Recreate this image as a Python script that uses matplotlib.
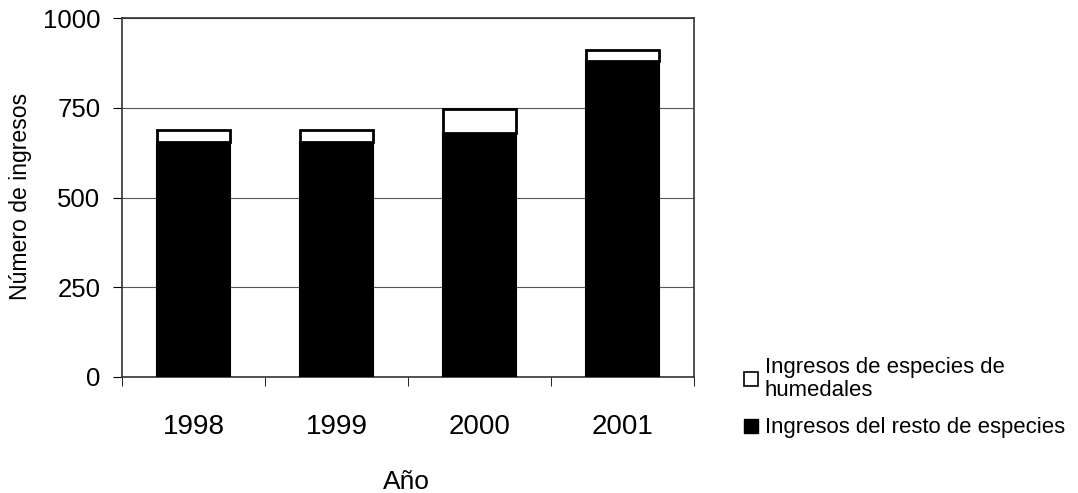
import numpy as np
import matplotlib
matplotlib.use('Agg')
import matplotlib.pyplot as plt
from matplotlib.lines import Line2D

years = ['1998', '1999', '2000', '2001']
resto = [655, 655, 680, 880]
humedales = [32, 32, 68, 30]

plt.rcParams['font.family'] = ['Liberation Sans', 'DejaVu Sans']

fig = plt.figure(figsize=(10.78, 4.93), dpi=100)
ax = fig.add_axes([0.1132, 0.2353, 0.5306, 0.728])

x = np.arange(len(years))
ax.bar(x, resto, width=0.51, color='black', edgecolor='black', linewidth=1.5, zorder=3)
ax.bar(x, humedales, width=0.51, bottom=resto, color='white', edgecolor='black',
       linewidth=2, zorder=3)

ax.set_xlim(-0.5, 3.5)
ax.set_ylim(0, 1000)
ax.set_yticks([0, 250, 500, 750, 1000])
ax.yaxis.grid(True, color='#555555', linewidth=0.8, zorder=0)
ax.tick_params(axis='y', direction='out', length=6.5, labelsize=18.5, pad=9)

ax.set_xticks(x)
ax.set_xticklabels(years, fontsize=20)
ax.tick_params(axis='x', length=0, pad=27)
ax.set_xticks(np.arange(-0.5, 4.0, 1.0), minor=True)
ax.tick_params(axis='x', which='minor', direction='out', length=6.5)

for s in ax.spines.values():
    s.set_color('#333333')
    s.set_linewidth(1.2)

ax.set_ylabel('Número de ingresos', fontsize=16.6)
ax.yaxis.set_label_coords(-0.157, 0.503)
ax.set_xlabel('Año', fontsize=19)
ax.xaxis.set_label_coords(0.498, -0.259)

handles = [Line2D([], [], marker='s', linestyle='none', markersize=10,
                  markerfacecolor='white', markeredgecolor='black', markeredgewidth=1.2),
           Line2D([], [], marker='s', linestyle='none', markersize=10,
                  markerfacecolor='black', markeredgecolor='black')]
labels = ['Ingresos de especies de\nhumedales', 'Ingresos del resto de especies']
leg = fig.legend(handles, labels, loc='upper left', bbox_to_anchor=(0.687, 0.275),
                 frameon=False, fontsize=15.9, handletextpad=0.2, handlelength=0.9,
                 labelspacing=0.75, borderaxespad=0, borderpad=0)
for t in leg.get_texts():
    t.set_linespacing(1.08)

fig.savefig('out.png', dpi=100)
